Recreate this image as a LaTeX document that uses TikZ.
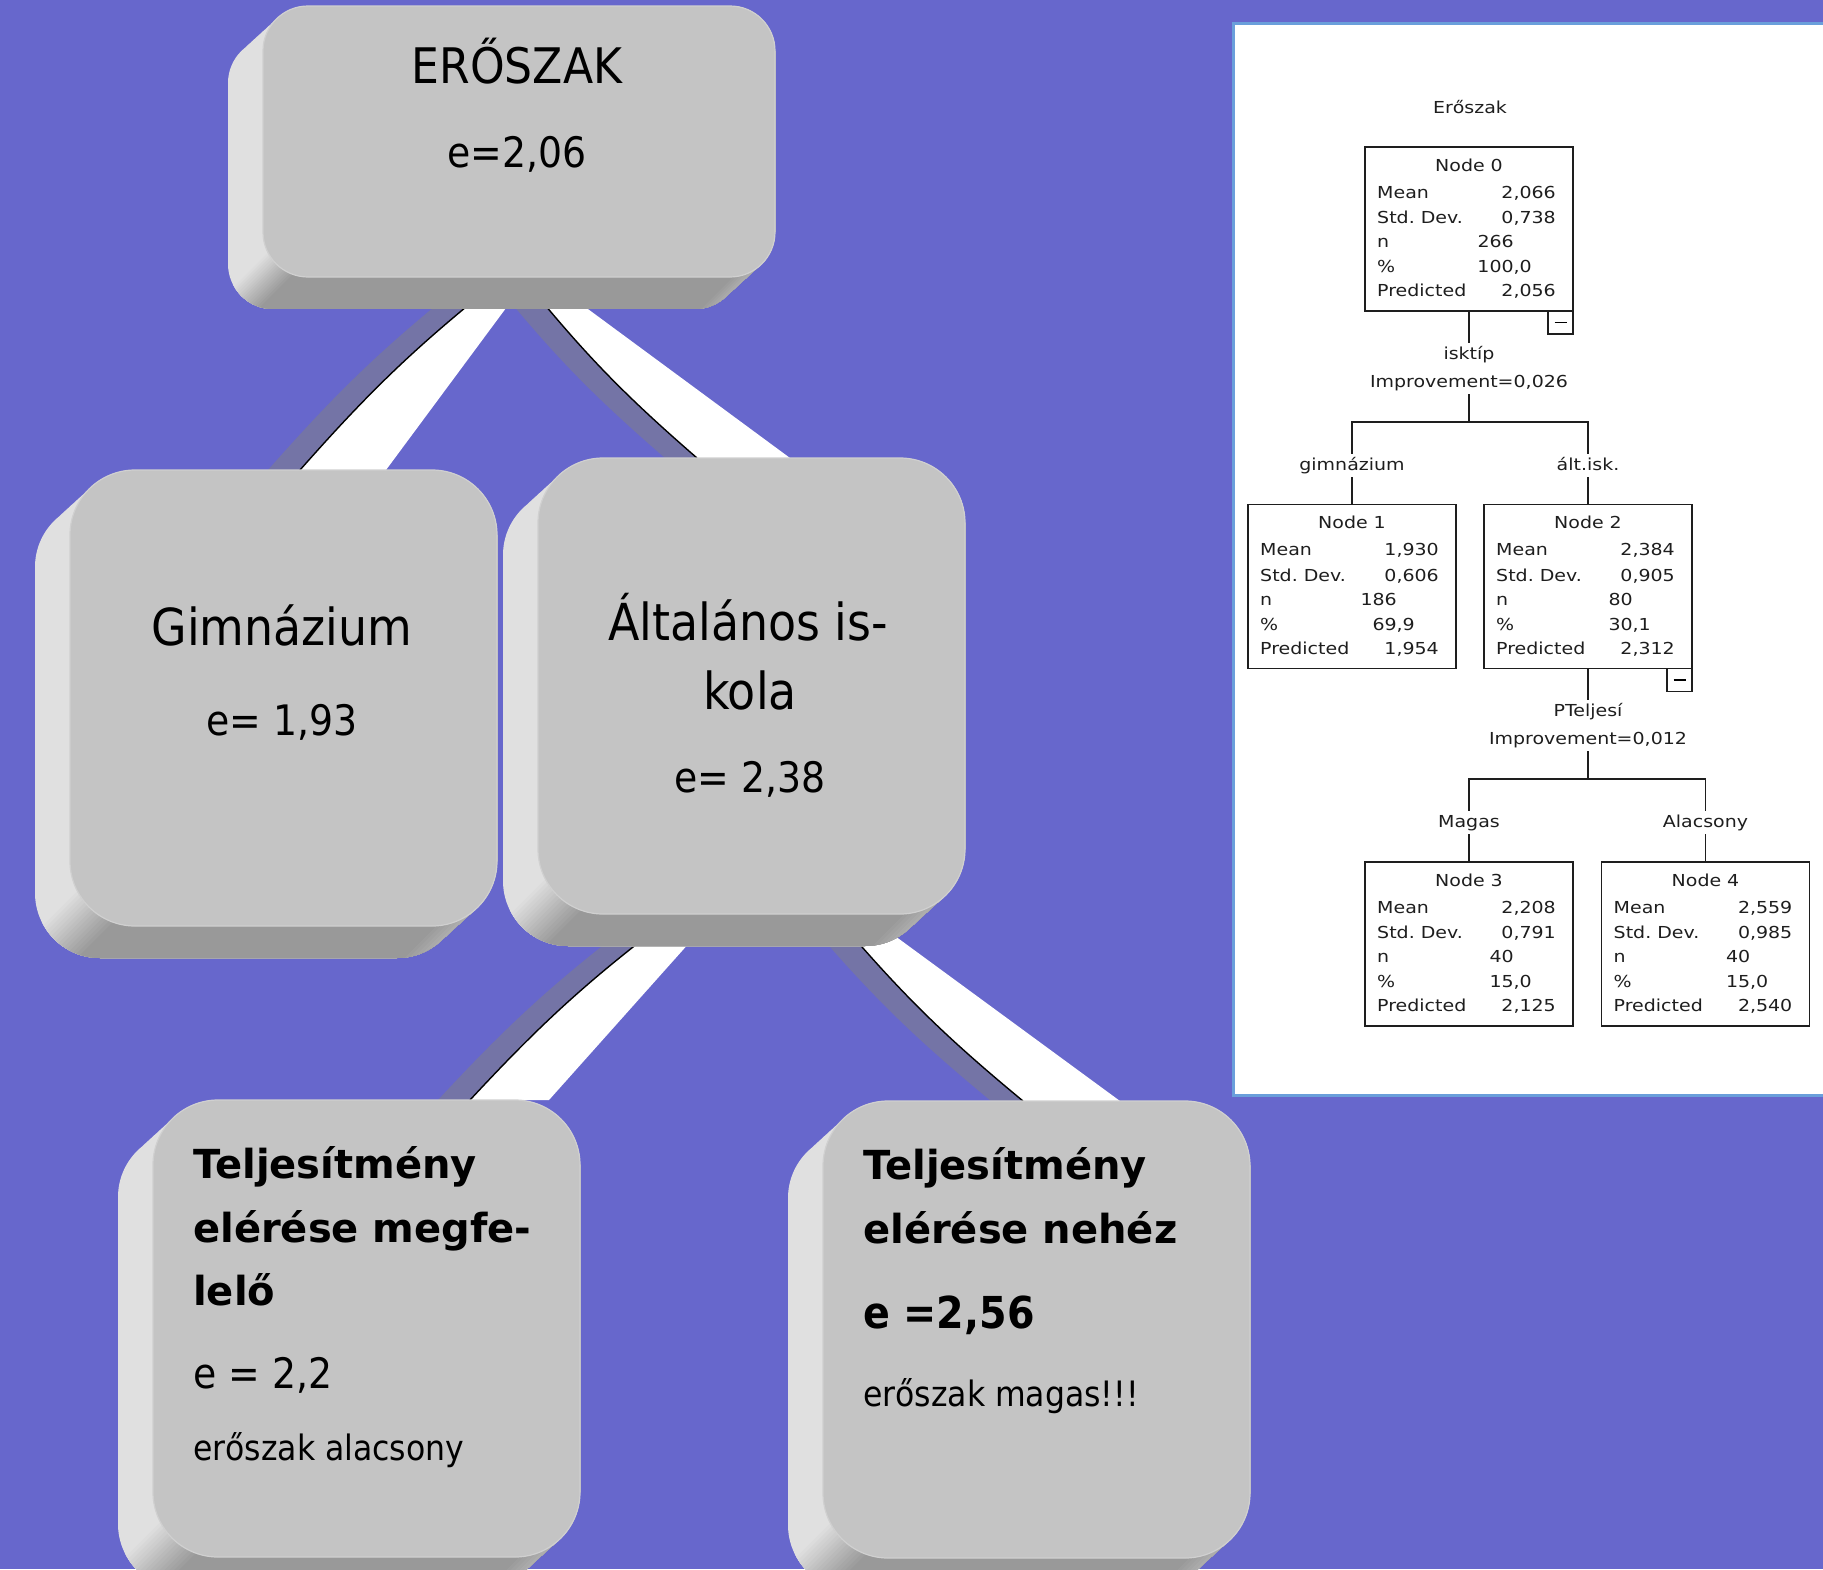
\documentclass[tikz,border=0pt]{standalone}
\usepackage{fontspec}
\IfFontExistsTF{DejaVu Sans Condensed}
  {\setmainfont{DejaVu Sans Condensed}}
  {\setmainfont{DejaVu Sans}[FakeStretch=0.9]}
\newfontfamily\widefam{DejaVu Sans}
\newfontfamily\spssfont{DejaVu Sans}[FakeStretch=1.15]

\pgfdeclarelayer{slidebg}
\pgfdeclarelayer{branches}
\pgfsetlayers{slidebg,branches,main}

\definecolor{slide}{RGB}{103,103,204}
\definecolor{capface}{RGB}{196,196,196}
\definecolor{caprim}{RGB}{208,208,208}
\definecolor{capside}{RGB}{224,224,224}
\definecolor{capbottom}{RGB}{153,153,153}
\definecolor{branchshadow}{RGB}{116,116,166}
\definecolor{panelrim}{RGB}{106,159,219}
\definecolor{spssink}{RGB}{30,30,30}

\tikzset{
  keyface/.style={draw=caprim,line width=1.2pt,fill=capface,inner sep=0pt,outer sep=0pt},
  headline/.style={font=\fontsize{49}{58}\selectfont,inner sep=0pt},
  bighead/.style={font=\fontsize{51}{60}\selectfont,inner sep=0pt},
  evalue/.style={font=\fontsize{42}{50}\selectfont,inner sep=0pt},
  boldline/.style={font=\widefam\bfseries\fontsize{40}{48}\selectfont,inner sep=0pt},
  bolde/.style={font=\bfseries\fontsize{44}{52}\selectfont,inner sep=0pt},
  remark/.style={font=\fontsize{35}{42}\selectfont,inner sep=0pt},
  spsstxt/.style={font=\spssfont\fontsize{16.5}{19}\selectfont,text=spssink,inner sep=0pt},
  spsslab/.style={spsstxt,inner sep=3pt,text height=13pt,text depth=4pt},
  spssbox/.style={draw=spssink,line width=1.6pt,fill=white,minimum width=208pt,minimum height=164pt,inner sep=0pt,outer sep=0pt},
  foldbox/.style={draw=spssink,line width=1.4pt,fill=white,minimum width=25pt,minimum height=23pt,inner sep=0pt,outer sep=0pt},
  spssline/.style={draw=spssink,line width=1.6pt},
}

% raised grey key: name, x1, y1, x2, y2 (face, y downwards), corner radius
\newcommand\keycap[6]{%
  \begin{scope}
    \clip[rounded corners=#6pt] \foreach \k in {0,5,...,35} {(#2-\k,{#3+\k*0.914}) rectangle (#4-\k,{#5+\k*0.914})};
    \fill[capside] (#2-40,#3-5) rectangle (#4+5,#5+40);
    % shade along x+y: left side light, bottom dark, far corner light again
    \foreach \i in {0,...,15} {
      \pgfmathsetmacro\keycut{#2+#5-0.5*#6+\i*1.1*#6/15}
      \pgfmathtruncatemacro\keymix{\i*100/15}
      \fill[capbottom!\keymix!capside] (\keycut-#3+10,#3-10) -- (#4+50,#3-10) -- (#4+50,#5+40) -- (\keycut-#5-40,#5+40) -- cycle;
    }
    \foreach \i in {1,...,15} {
      \pgfmathsetmacro\keycut{#4+#5-#6+\i*#6/15}
      \pgfmathtruncatemacro\keymix{\i*85/15}
      \fill[capside!\keymix!capbottom] (\keycut-#3+10,#3-10) -- (#4+50,#3-10) -- (#4+50,#5+40) -- (\keycut-#5-40,#5+40) -- cycle;
    }
  \end{scope}
  \node[keyface,minimum width={(#4-#2)*1pt},minimum height={(#5-#3)*1pt},rounded corners=#6pt] (#1) at ({(#2+#4)/2},{(#3+#5)/2}) {};
}

% white strip between two keys: parent, edge x / right x at its foot, child, edge x / right x at its top
\newcommand\branch[6]{%
  \fill[branchshadow] ([xshift=#2-32]#1.south west) to[bend right=5] ([xshift=#5-32]#4.north west)
    -- ([xshift=#6-32]#4.north west) -- ([xshift=#3-32]#1.south west) -- cycle;
  \fill[white] ([xshift=#2]#1.south west) to[bend right=5] ([xshift=#5]#4.north west)
    -- ([xshift=#6]#4.north west) -- ([xshift=#3]#1.south west) -- cycle;
  \draw[line width=1.4pt] ([xshift=#2]#1.south west) to[bend right=5] ([xshift=#5]#4.north west);
}

% SPSS tree node: name, x, y (centre), title, mean, sd, n, percent, predicted
\newcommand\spssnode[9]{%
  \node[spssbox] (#1) at (#2,#3) {};
  \node[spsstxt,anchor=base] (#1-head) at (#2,#3-58) {#4};
  \node[spsstxt,anchor=base west] (#1-l1) at (#2-92,#3-31) {Mean};
  \node[spsstxt,anchor=base east] (#1-v1) at (#2+87,#3-31) {#5};
  \node[spsstxt,anchor=base west] (#1-l2) at (#2-92,#3-5.5) {Std.\ Dev.};
  \node[spsstxt,anchor=base east] (#1-v2) at (#2+87,#3-5.5) {#6};
  \node[spsstxt,anchor=base west] (#1-l3) at (#2-92,#3+18.5) {n};
  \node[spsstxt,anchor=base east] (#1-v3) at (#2+45,#3+18.5) {#7};
  \node[spsstxt,anchor=base west] (#1-l4) at (#2-92,#3+43.5) {\%};
  \node[spsstxt,anchor=base east] (#1-v4) at (#2+63,#3+43.5) {#8};
  \node[spsstxt,anchor=base west] (#1-l5) at (#2-92,#3+67.5) {Predicted};
  \node[spsstxt,anchor=base east] (#1-v5) at (#2+87,#3+67.5) {#9};
}

\begin{document}
\begin{tikzpicture}[x=1pt,y=-1pt]
\useasboundingbox (0,0) rectangle (1823,1569);
\begin{pgfonlayer}{slidebg}
\fill[slide] (0,0) rectangle (1823,1569);
\end{pgfonlayer}

% keys
\keycap{eroszak}{263}{6}{775}{277}{45}
\keycap{gimn}{70}{470}{497}{926}{65}
\keycap{altisk}{538}{458}{965}{914}{65}
\keycap{megfelelo}{153}{1100}{580}{1557}{65}
\keycap{nehez}{823}{1101}{1250}{1558}{65}

\begin{pgfonlayer}{branches}
\branch{eroszak}{240}{266}{gimn}{230}{316}
\branch{eroszak}{259}{281.5}{altisk}{159}{252}
\branch{altisk}{137.7}{177}{megfelelo}{317}{396}
\branch{altisk}{295.5}{327}{nehez}{200}{297}
\end{pgfonlayer}

\node[headline,anchor=base] (eroszak-t) at (517,83) {ERŐSZAK};
\node[evalue,anchor=base] (eroszak-e) at (517,167) {e=2,06};
\node[bighead,anchor=base] (gimn-t) at (282,645) {Gimnázium};
\node[evalue,anchor=base] (gimn-e) at (282,735) {e= 1,93};
\node[bighead,anchor=base] (altisk-t1) at (748,640) {Általános is-};
\node[bighead,anchor=base] (altisk-t2) at (750,709) {kola};
\node[evalue,anchor=base] (altisk-e) at (750,792) {e= 2,38};
\node[boldline,anchor=base west] (megfelelo-t1) at (193,1178) {Teljesítmény};
\node[boldline,anchor=base west] (megfelelo-t2) at (193,1242) {elérése megfe-};
\node[boldline,anchor=base west] (megfelelo-t3) at (193,1305) {lelő};
\node[evalue,anchor=base west] (megfelelo-e) at (193,1388) {e = 2,2};
\node[remark,anchor=base west] (megfelelo-r) at (193,1460) {erőszak alacsony};
\node[boldline,anchor=base west] (nehez-t1) at (863,1179) {Teljesítmény};
\node[boldline,anchor=base west] (nehez-t2) at (863,1243) {elérése nehéz};
\node[bolde,anchor=base west] (nehez-e) at (863,1328) {e =2,56};
\node[remark,anchor=base west] (nehez-r) at (863,1406) {erőszak magas!!!};

% SPSS output
\draw[panelrim,line width=3pt,fill=white] (1233.5,23.5) rectangle (1850,1095.5);
\node[spsstxt,anchor=base] (tree-title) at (1470,113) {Erőszak};
\spssnode{node0}{1469}{229}{Node 0}{2,066}{0,738}{266}{100,0}{2,056}
\spssnode{node1}{1352}{586.5}{Node 1}{1,930}{0,606}{186}{69,9}{1,954}
\spssnode{node2}{1588}{586.5}{Node 2}{2,384}{0,905}{80}{30,1}{2,312}
\spssnode{node3}{1469}{944}{Node 3}{2,208}{0,791}{40}{15,0}{2,125}
\spssnode{node4}{1705.5}{944}{Node 4}{2,559}{0,985}{40}{15,0}{2,540}
\node[foldbox,anchor=north east] (node0-fold) at (node0.south east) {\rule{12pt}{1.3pt}};
\node[foldbox,anchor=north east] (node2-fold) at (node2.south east) {\rule{12pt}{1.3pt}};

\node[spsslab,anchor=base] (split0) at (1469,359) {isktíp};
\node[spsslab,anchor=base] (gain0) at (1469,387) {Improvement=0,026};
\node[spsslab,anchor=base] (cat1) at (1352,470) {gimnázium};
\node[spsslab,anchor=base] (cat2) at (1588,470) {ált.isk.};
\node[spsslab,anchor=base] (split2) at (1588,716) {PTeljesí};
\node[spsslab,anchor=base] (gain2) at (1588,744) {Improvement=0,012};
\node[spsslab,anchor=base] (cat3) at (1469,827) {Magas};
\node[spsslab,anchor=base] (cat4) at (1705.5,827) {Alacsony};

\draw[spssline] (node0.south) -- (split0.north);
\draw[spssline] (gain0.south) -- ++(0,28) -| (cat1.north);
\draw[spssline] (gain0.south) ++(0,28) -| (cat2.north);
\draw[spssline] (cat1.south) -- (node1.north);
\draw[spssline] (cat2.south) -- (node2.north);
\draw[spssline] (node2.south) -- (split2.north);
\draw[spssline] (gain2.south) -- ++(0,28) -| (cat3.north);
\draw[spssline] (gain2.south) ++(0,28) -| (cat4.north);
\draw[spssline] (cat3.south) -- (node3.north);
\draw[spssline] (cat4.south) -- (node4.north);
\end{tikzpicture}
\end{document}
